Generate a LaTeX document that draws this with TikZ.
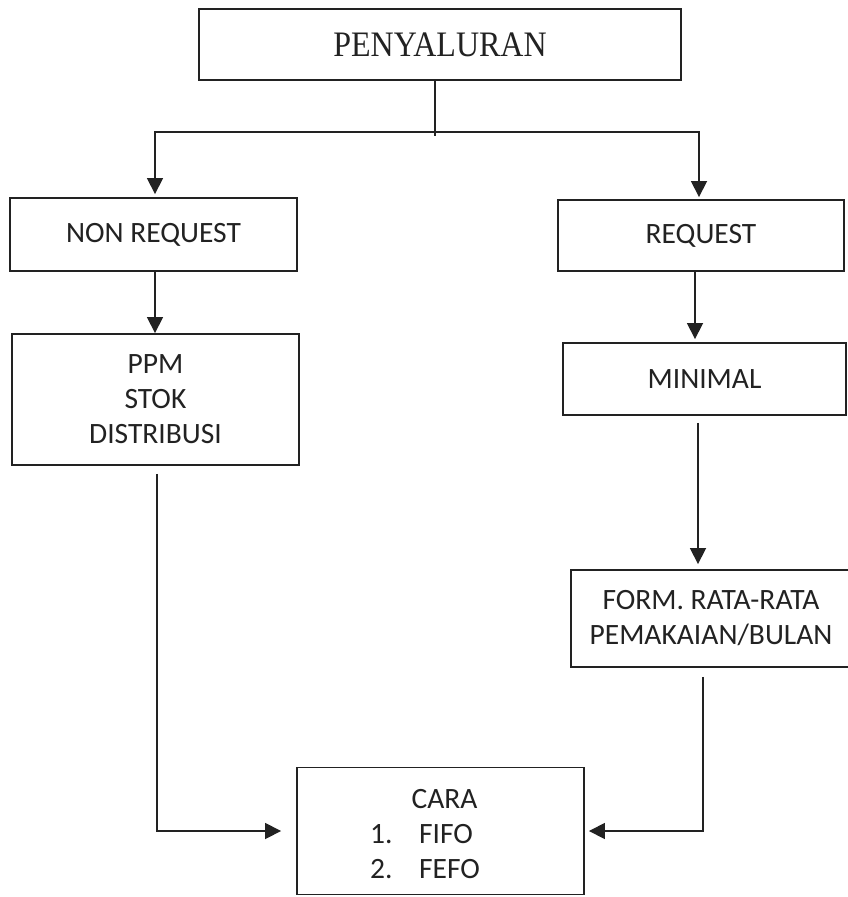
\documentclass[tikz,border=0pt]{standalone}
\usepackage{fontspec}
\setmainfont{Carlito}
\newfontfamily\titlefont{Liberation Serif}
\usetikzlibrary{arrows.meta}
\definecolor{ink}{HTML}{222222}
\tikzset{
  boxnode/.style={draw=ink, line width=1.9pt, rectangle, inner sep=0pt, align=center,
    font=\fontsize{29.5}{35}\selectfont, text=ink},
  conn/.style={draw=ink, line width=1.7pt},
  arr/.style={conn, -{Triangle[length=16pt,width=16pt]}},
  arrboth/.style={conn, {Triangle[length=16pt,width=16pt]}-{Triangle[length=16pt,width=16pt]}},
  txt/.style={inner sep=0pt, font=\fontsize{29.5}{35}\selectfont, text=ink},
}
\begin{document}
\begin{tikzpicture}[x=1pt,y=-1pt]
\useasboundingbox (0,0) rectangle (847,897);
\fill[white] (0,0) rectangle (847,897);

\node[boxnode, minimum width=482pt, minimum height=71pt, font=\titlefont\fontsize{32}{38}\selectfont]
  (peny) at (440,44.5) {\scalebox{1}[1.12]{PENYALURAN}};
\node[boxnode, minimum width=287pt, minimum height=73pt] (nonreq) at (153.5,234.5) {NON REQUEST};
\node[boxnode, minimum width=287pt, minimum height=131pt] (ppm) at (155.5,399.5) {PPM\\STOK\\DISTRIBUSI};
\node[boxnode, minimum width=286pt, minimum height=71pt] (req) at (701,235.5) {REQUEST};
\node[boxnode, minimum width=283pt, minimum height=72pt] (minimal) at (704.5,379) {MINIMAL};
\node[boxnode, minimum width=280pt, minimum height=97pt] (form) at (711,618.5) {FORM. RATA-RATA\\PEMAKAIAN/BULAN};
\node[boxnode, minimum width=287pt, minimum height=127pt] (cara) at (440.5,831) {};

\node[txt, anchor=base] (caratitle) at (444.5,808) {CARA};
\node[txt, anchor=base west] (n1) at (370,843) {1.};
\node[txt, anchor=base west] (fifo) at (419,843) {FIFO};
\node[txt, anchor=base west] (n2) at (370,878) {2.};
\node[txt, anchor=base west] (fefo) at (419,878) {FEFO};

% top split
\coordinate (jn) at (435,132);
\draw[conn] ([xshift=-5pt]peny.south) -- ([xshift=-5pt,yshift=-55pt]peny.south);
\coordinate (nl) at ([xshift=1.5pt,yshift=3pt]nonreq.north);
\coordinate (rl) at ([xshift=-2pt,yshift=2pt]req.north);
\draw[arrboth] (nl) -- (nl |- jn) -- (rl |- jn) -- (rl);

% left column
\coordinate (a1) at ([xshift=1.5pt]nonreq.south);
\draw[arr] (a1) -- (a1 |- ppm.north);

% right column
\coordinate (r1) at ([xshift=-6pt]req.south);
\coordinate (m0) at ([yshift=3pt]minimal.north);
\draw[arr] (r1) -- (r1 |- m0);
\coordinate (m1) at ([xshift=-6.5pt,yshift=-7pt]minimal.south);
\coordinate (f1) at ([yshift=5pt]form.north);
\draw[arr] (m1) -- (m1 |- f1);

% into CARA
\coordinate (p1) at ([xshift=1.5pt,yshift=-8pt]ppm.south);
\coordinate (c1) at ([xshift=-15pt]cara.west);
\draw[arr] (p1) |- (c1);
\coordinate (f2) at ([xshift=-8pt,yshift=-9pt]form.south);
\coordinate (c2) at ([xshift=4pt]cara.east);
\draw[arr] (f2) |- (c2);
\end{tikzpicture}
\end{document}
